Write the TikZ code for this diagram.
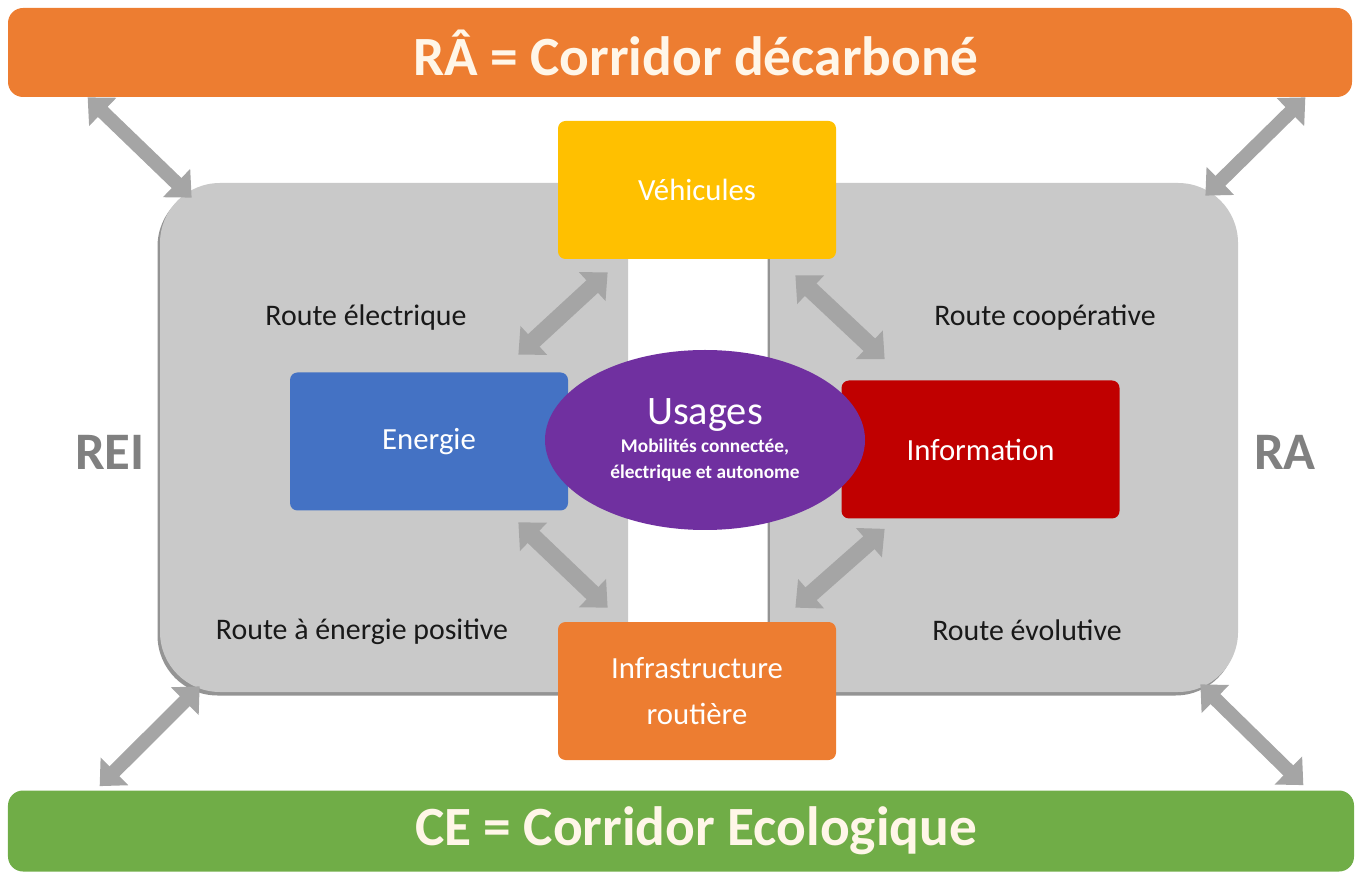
\documentclass[tikz,border=0pt]{standalone}
\usepackage{fontspec}
\setmainfont{Carlito}
\usepackage{tikz}
\usetikzlibrary{arrows.meta,shadows,shapes.geometric}

\definecolor{orangeRA}{HTML}{ED7D31}
\definecolor{vertCE}{HTML}{70AD47}
\definecolor{jaune}{HTML}{FFC000}
\definecolor{bleu}{HTML}{4472C4}
\definecolor{rouge}{HTML}{C00000}
\definecolor{violet}{HTML}{7030A0}
\definecolor{panneau}{HTML}{C9C9C9}
\definecolor{fleche}{HTML}{A5A5A5}
\definecolor{creme}{HTML}{FFF6E8}

\begin{document}
\begin{tikzpicture}[
		bar/.style={fill=#1, rounded corners=0.3cm, inner sep=0pt, text=creme, font=\fontsize{31.5}{36}\selectfont\bfseries},
		box/.style={fill=#1, rounded corners=0.15cm, inner sep=0pt, minimum width=5.56cm, minimum height=2.76cm, text=white, align=center, font=\fontsize{17.5}{26.6}\selectfont},
		panel/.style={fill=panneau, rounded corners=1.2cm, inner sep=0pt, minimum width=9.36cm, minimum height=10.18cm, drop shadow={shadow xshift=-0.05cm, shadow yshift=-0.07cm, fill=black!60, opacity=0.7}},
		duo/.style={line width=0.28cm, draw=fleche, {Triangle[width=0.76cm,length=0.42cm]}-{Triangle[width=0.76cm,length=0.42cm]}},
		voie/.style={font=\fontsize{17}{20}\selectfont, text=black!90},
		sigle/.style={font=\fontsize{30}{34}\selectfont\bfseries, text=black!50}
	]
		\useasboundingbox (0,0) rectangle (27.2,17.52);
		
		% corridors
		\node[bar=orangeRA, minimum width=26.88cm, minimum height=1.78cm] (ra) at (13.6,16.47) {\hspace*{0.64cm}RÂ = Corridor décarboné};
		\node[bar=vertCE, minimum width=26.92cm, minimum height=1.62cm] (ce) at (13.62,0.9) {\hspace*{0.6cm}CE = Corridor Ecologique};
		
		% the two road panels
		\node[panel] (gauche) at (7.88,8.77) {};
		\node[panel] (droite) at (20.08,8.77) {};
		
		\draw[duo] ([xshift=1.6cm]ra.south west) -- ([shift={(0.64,-0.3)}]gauche.north west);
		\draw[duo] ([xshift=-0.94cm]ra.south east) -- ([shift={(-0.66,-0.26)}]droite.north east);
		\draw[duo] ([shift={(0.8,0.12)}]gauche.south west) -- ([shift={(1.84,0.08)}]ce.north west);
		\draw[duo] ([shift={(-0.76,0.16)}]droite.south east) -- ([shift={(-1.02,0.1)}]ce.north east);
		
		\node[voie] (relec) at (7.32,11.16) {Route électrique};
		\node[voie] (rcoop) at (20.9,11.16) {Route coopérative};
		\node[voie] (rpos) at (7.24,4.88) {Route à énergie positive};
		\node[voie] (revol) at (20.54,4.92) {Route évolutive};
		
		\node[sigle] (rei) at (2.2,8.48) {REI};
		\node[sigle] (rasigle) at (25.7,8.48) {RA};
		
		% boxes
		\node[box=jaune] (vehicules) at (13.94,13.72) {Véhicules};
		\node[box=bleu] (energie) at (8.58,8.69) {Energie};
		\node[box=rouge] (information) at (19.61,8.53) {Information};
		\node[box=orangeRA] (infra) at (13.94,3.7) {Infrastructure\\routière};
		
		\node[ellipse, fill=violet, inner sep=0pt, minimum width=6.4cm, minimum height=3.6cm, text=white, align=center, font=\fontsize{11}{14.7}\selectfont\bfseries] (usages) at (14.1,8.72)
			{{\fontsize{23}{28}\mdseries\selectfont Usages}\\[1.5pt]Mobilités connectée,\\électrique et autonome};
		
		\draw[duo, line width=0.34cm] ([shift={(1.0,-0.26)}]vehicules.south west) -- ([shift={(-1.0,0.35)}]energie.north east);
		\draw[duo, line width=0.34cm] ([shift={(-0.82,-0.32)}]vehicules.south east) -- ([shift={(0.87,0.42)}]information.north west);
		\draw[duo, line width=0.34cm] ([shift={(-1.0,-0.23)}]energie.south east) -- ([shift={(1.0,0.28)}]infra.north west);
		\draw[duo, line width=0.34cm] ([shift={(0.87,-0.2)}]information.south west) -- ([shift={(-0.82,0.28)}]infra.north east);
\end{tikzpicture}
\end{document}
